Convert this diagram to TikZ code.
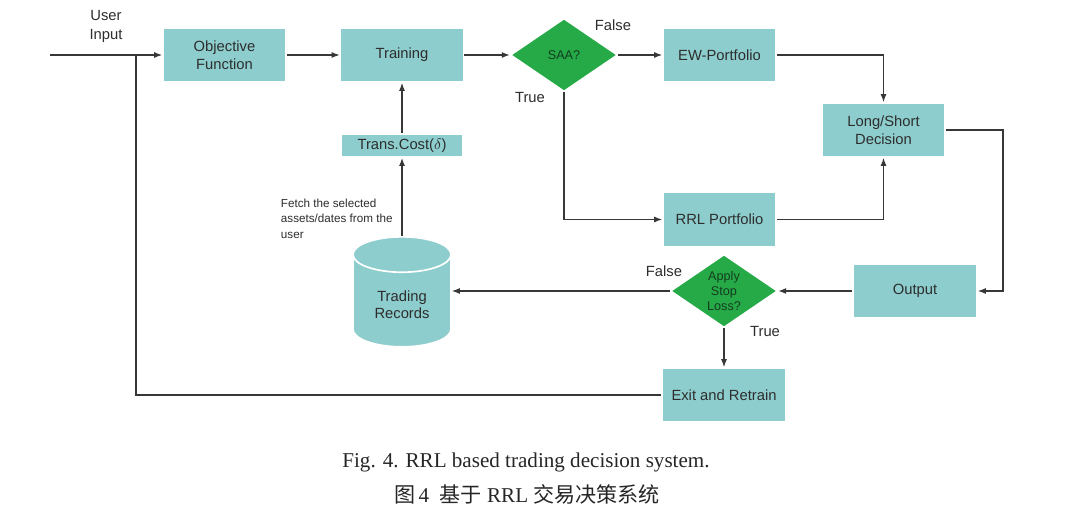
\documentclass[tikz,border=0pt]{standalone}
\usepackage{fontspec}
\setmainfont{Liberation Serif}
\setsansfont{Liberation Sans}
\newfontfamily\cjk{Noto Sans CJK SC}
\usepackage{tikz}
\usetikzlibrary{shapes.geometric, arrows.meta, positioning, calc}
\usepackage{xcolor}
\definecolor{boxteal}{RGB}{142, 205, 205}
\definecolor{saagreen}{RGB}{38, 170, 72}
\definecolor{linegray}{RGB}{55, 55, 55}
\definecolor{textgray}{RGB}{45, 45, 45}
\definecolor{dgreen}{RGB}{20, 60, 30}

\begin{document}
\begin{tikzpicture}[
    box/.style={rectangle, fill=boxteal, draw=white, line width=1.2pt,
      minimum width=3.075cm, minimum height=1.35cm, align=center,
      font=\sffamily\fontsize{10.5}{12.5}\selectfont, text=textgray},
    decide/.style={diamond, fill=saagreen, draw=white, line width=1pt,
      inner sep=0pt, minimum width=2.675cm, minimum height=1.825cm,
      align=center, font=\sffamily\fontsize{9}{10.5}\selectfont, text=dgreen},
    lbl/.style={font=\sffamily\fontsize{10.5}{12.5}\selectfont, text=textgray, align=center},
    flow/.style={draw=linegray, line width=0.9pt, -{Latex[length=2mm,width=1.5mm]}},
    plain/.style={draw=linegray, line width=0.9pt}
  ]
  \useasboundingbox (0,0) rectangle (27,-12.825);
  \fill[white] (0,0) rectangle (27,-12.825);

  % 上排
  \node[box] (obj) at (5.6125,-1.375) {Objective\\Function};
  \node[box] (train) at (10.05,-1.375) {Training};
  \node[decide] (saa) at (14.1,-1.375) {SAA?};
  \node[box, minimum width=2.825cm] (ew) at (17.9875,-1.375) {EW-Portfolio};
  \node[box] (ls) at (22.0875,-3.25) {Long/Short\\Decision};
  \node[box, minimum width=2.825cm] (rrl) at (17.9875,-5.4875) {RRL Portfolio};

  % 交易成本 + 数据库
  \node[box, minimum width=3.05cm, minimum height=0.525cm] (cost) at (10.05,-3.6375) {Trans.Cost($\delta$)};
  \node[cylinder, shape border rotate=90, aspect=0.55, anchor=north,
    cylinder uses custom fill, cylinder body fill=boxteal, cylinder end fill=boxteal,
    draw=white, line width=1.2pt, minimum width=2.45cm, minimum height=2.75cm,
    align=center, font=\sffamily\fontsize{10.5}{12.5}\selectfont, text=textgray]
    (rec) at (10.05,-5.9) {Trading\\Records};

  % 下排
  \node[decide] (stop) at (18.1,-7.275) {Apply\\Stop\\Loss?};
  \node[box, minimum width=3.1cm] (out) at (22.875,-7.275) {Output};
  \node[box, minimum width=3.1cm] (exit) at (18.1,-9.875) {Exit and Retrain};

  % 文字标注
  \node[lbl, font=\sffamily\fontsize{10.5}{13.5}\selectfont] (uin) at (2.65,-0.65) {User\\Input};
  \node[lbl, anchor=west] (saaF) at (14.75,-0.625) {False};
  \node[lbl] (saaT) at (13.25,-2.425) {True};
  \node[lbl] (stopF) at (16.6,-6.775) {False};
  \node[lbl] (stopT) at (19.125,-8.275) {True};
  \node[lbl, anchor=north west, align=left, font=\sffamily\fontsize{8.3}{11}\selectfont]
    (fetch) at (6.9,-4.85) {Fetch the selected\\assets/dates from the\\user};

  % 连线
  \coordinate (in) at (1.25,-1.375);
  \coordinate (fb) at (3.4,-1.375);
  \coordinate (lsr) at (25.075,-3.25);
  \draw[flow] (in) -- (obj);
  \draw[flow] (obj) -- (train);
  \draw[flow] (train) -- (saa);
  \draw[flow] (saa) -- (ew);
  \draw[flow] (saa.south) |- (rrl.west);
  \draw[flow] (ew.east) -| (ls.north);
  \draw[flow] (rrl.east) -| (ls.south);
  \draw[flow] (ls.east) -- (lsr) |- (out.east);
  \draw[flow] (out) -- (stop);
  \draw[flow] (stop.west) -- (rec.east |- stop.west);
  \draw[flow] (stop) -- (exit);
  \draw[plain] (exit.west) -| (fb);
  \draw[flow] (rec.north) -- (cost);
  \draw[flow] (cost) -- (train);

  % 图注
  \node[font=\fontsize{15}{18}\selectfont, text=black!85] (cap1) at (13.15,-11.55)
    {Fig. 4. RRL based trading decision system.};
  \node[font=\fontsize{15}{18}\selectfont, text=black!85] (cap2) at (13.175,-12.35)
    {{\cjk 图}\,4\ \ {\cjk 基于} RRL {\cjk 交易决策系统}};
\end{tikzpicture}
\end{document}
